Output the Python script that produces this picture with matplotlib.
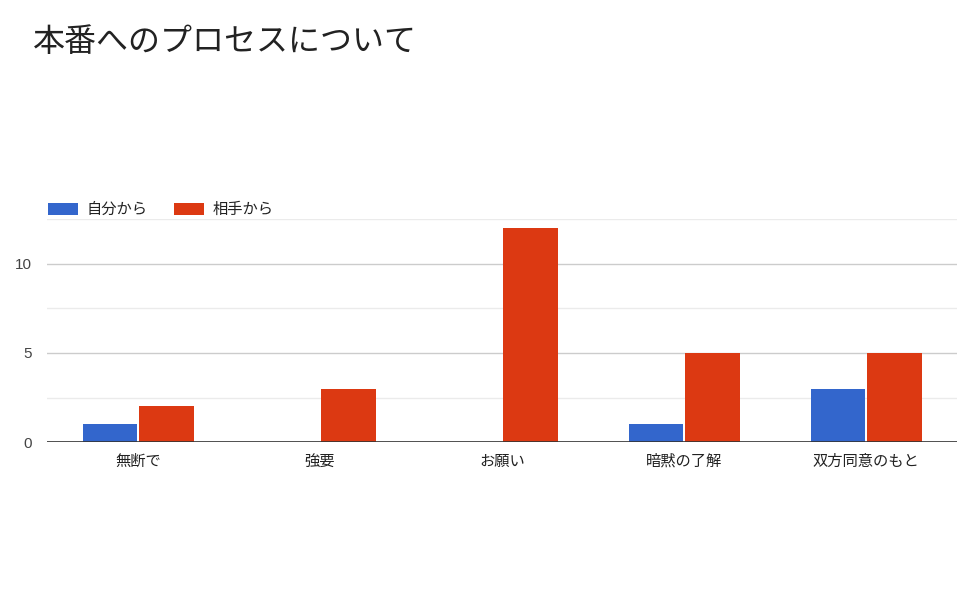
import numpy as np
import matplotlib
matplotlib.use("Agg")
import matplotlib.pyplot as plt
from matplotlib.ticker import MultipleLocator

plt.rcParams['font.family'] = ['Liberation Sans', 'Noto Sans CJK JP', 'DejaVu Sans']
JP = ['Noto Sans CJK JP', 'DejaVu Sans']

title = "本番へのプロセスについて"
categories = ["無断で", "強要", "お願い", "暗黙の了解", "双方同意のもと"]
series_names = ["自分から", "相手から"]
self_vals = [1, 0, 0, 1, 3]
partner_vals = [2, 3, 12, 5, 5]
colors = ["#3366cc", "#dc3912"]

fig = plt.figure(figsize=(9.6, 6), dpi=100)
ax = fig.add_axes([0.049, 0.263, 0.948, 0.372])

x = np.arange(len(categories))
w = 0.3
off = 0.155
ax.bar(x - off, self_vals, w, color=colors[0], label=series_names[0], zorder=3)
ax.bar(x + off, partner_vals, w, color=colors[1], label=series_names[1], zorder=3)

ax.set_xlim(-0.5, len(categories) - 0.5)
ax.set_ylim(0, 12.5)
ax.yaxis.set_major_locator(MultipleLocator(5))
ax.yaxis.set_minor_locator(MultipleLocator(2.5))
ax.grid(axis='y', which='major', color='#cccccc', linewidth=1, zorder=0)
ax.grid(axis='y', which='minor', color='#ebebeb', linewidth=1, zorder=0)
ax.axhline(0, color='#333333', linewidth=1.2, zorder=4)

for s in ax.spines.values():
    s.set_visible(False)

ax.set_xticks(x)
ax.set_xticklabels(categories, family=JP)
# baseline alignment keeps all category labels on one line
for lbl in ax.get_xticklabels():
    lbl.set_va('baseline')
ax.tick_params(axis='x', length=0, pad=17, labelsize=11, colors='#222222')
ax.tick_params(axis='y', which='both', length=0, pad=11, labelsize=11, colors='#444444')
ax.set_yticks([0, 5, 10])
ax.set_yticklabels(["0", "5", "10"])

leg = ax.legend(loc='lower left', bbox_to_anchor=(-0.0, 1.0), ncol=2, frameon=False,
                prop={'family': JP, 'size': 11},
                handlelength=1.95, handleheight=0.9, handletextpad=0.6,
                columnspacing=1.7, borderaxespad=0.05, borderpad=0.0)
for t in leg.get_texts():
    t.set_color('#222222')

fig.text(0.034, 0.93, title, fontsize=23, color='#222222', ha='left', va='center', family=JP)

fig.savefig("out.png", dpi=100)
